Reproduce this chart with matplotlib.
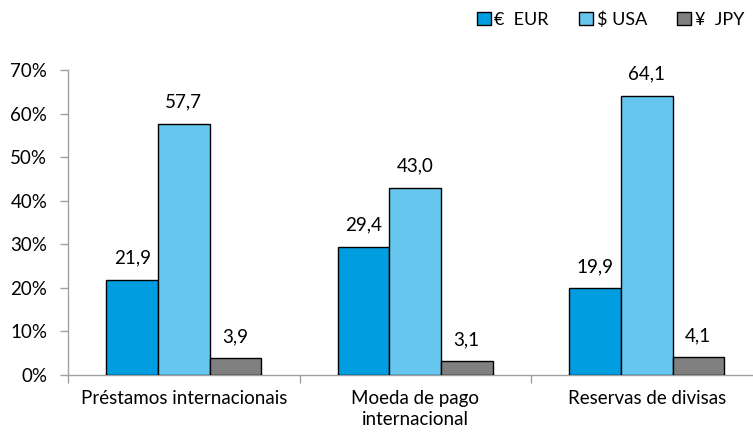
import matplotlib.pyplot as plt
import numpy as np
from matplotlib.patches import Patch

categories = ["Préstamos internacionais", "Moeda de pago\ninternacional", "Reservas de divisas"]
series_names = ["€  EUR", "$ USA", "¥  JPY"]
eur = [21.9, 29.4, 19.9]
usa = [57.7, 43.0, 64.1]
jpy = [3.9, 3.1, 4.1]
colors = ["#009ee0", "#66c6ee", "#808080"]

plt.rcParams["font.family"] = ["Lato", "DejaVu Sans"]
FS = 13.5

fig = plt.figure(figsize=(7.53, 4.36), dpi=100)
ax = fig.add_axes([68 / 753, 61 / 436, 694.5 / 753, 305 / 436])

x = np.arange(len(categories))
w = 0.2225
for i, (vals, col) in enumerate(zip([eur, usa, jpy], colors)):
    pos = x + (i - 1) * w
    ax.bar(pos, vals, width=w, color=col, edgecolor="black", linewidth=1, zorder=3)
    for p, v in zip(pos, vals):
        ax.text(p, v + 3.0, f"{v:.1f}".replace(".", ","), ha="center", va="bottom", fontsize=FS)

ax.set_xlim(-0.5, 2.5)
ax.set_ylim(0, 70)
ax.set_yticks(np.arange(0, 71, 10))
ax.set_yticklabels([f"{t}%" for t in range(0, 71, 10)], fontsize=FS)
ax.set_xticks([-0.5, 0.5, 1.5, 2.5])
ax.set_xticklabels([])
ax.set_xticks(x, minor=True)
ax.set_xticklabels(categories, minor=True, fontsize=FS, linespacing=1.3)
ax.tick_params(axis="x", which="minor", length=0, pad=11)
ax.tick_params(axis="x", which="major", length=6, color="#a0a0a0", width=1)
ax.tick_params(axis="y", length=6, color="#a0a0a0", width=1, pad=9)

for s in ["top", "right"]:
    ax.spines[s].set_visible(False)
for s in ["left", "bottom"]:
    ax.spines[s].set_color("#a0a0a0")
    ax.spines[s].set_linewidth(1)

handles = [Patch(facecolor=c, edgecolor="black", linewidth=1) for c in colors]
fig.legend(handles, series_names, loc="upper right", bbox_to_anchor=(1.0, 0.995),
           ncol=3, frameon=False, fontsize=13, handlelength=0.75, handleheight=0.75,
           handletextpad=0.2, columnspacing=1.7, borderaxespad=0.1)

fig.savefig("out.png", dpi=100)
